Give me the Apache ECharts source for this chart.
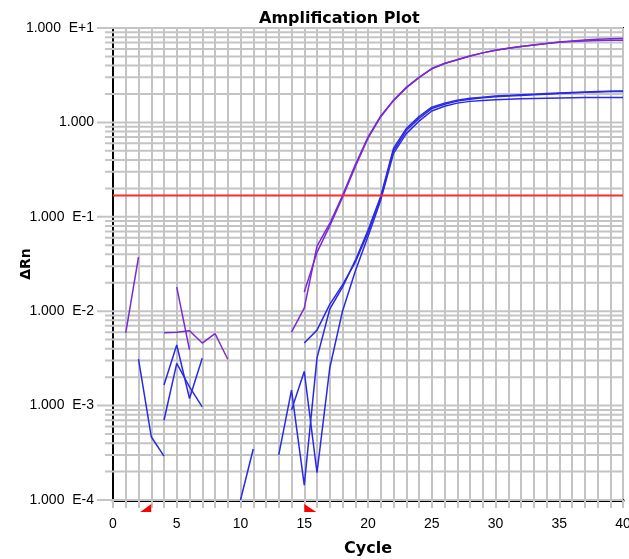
<!DOCTYPE html>
<html>
<head>
<meta charset="utf-8">
<script src="https://cdn.jsdelivr.net/npm/echarts@6/dist/echarts.min.js"></script>
<style>
  html, body { margin: 0; padding: 0; background: #ffffff; }
  #chart { width: 629px; height: 559px; }
</style>
</head>
<body>
<div id="chart"></div>
<script>
// Cycle numbers (x axis)
const cycles = [1, 2, 3, 4, 5, 6, 7, 8, 9, 10, 11, 12, 13, 14, 15, 16, 17, 18, 19, 20,
                21, 22, 23, 24, 25, 26, 27, 28, 29, 30, 31, 32, 33, 34, 35, 36, 37, 38, 39, 40];

// Delta Rn per cycle; null where the value is not positive (not drawn on a log axis)
const purpleA = [0.0059, 0.0375, null, 0.0059, 0.0060, 0.0062, 0.0046, 0.0058, 0.0031, null,
                 null, null, null, 0.0060, 0.0108, 0.049, 0.085, 0.168, 0.355, 0.70,
                 1.17, 1.72, 2.35, 3.0, 3.72, 4.2, 4.6, 5.05, 5.45, 5.82,
                 6.1, 6.35, 6.6, 6.85, 7.1, 7.3, 7.45, 7.6, 7.7, 7.75];
const purpleB = [null, null, null, null, 0.018, 0.0039, null, null, null, null,
                 null, null, null, null, 0.016, 0.042, 0.080, 0.160, 0.34, 0.68,
                 1.15, 1.70, 2.32, 2.98, 3.7, 4.2, 4.6, 5.05, 5.45, 5.8,
                 6.1, 6.35, 6.6, 6.85, 7.05, 7.2, 7.3, 7.35, 7.4, 7.4];
const blueA = [null, 0.00311, 0.000468, 0.000292, null, null, null, null, null, null,
               null, null, 0.00030, 0.00146, 0.000144, 0.0032, 0.0105, 0.0180, 0.0345, 0.072,
               0.165, 0.53, 0.86, 1.15, 1.45, 1.6, 1.72, 1.8, 1.85, 1.9,
               1.93, 1.96, 1.99, 2.02, 2.05, 2.08, 2.1, 2.12, 2.14, 2.15];
const blueB = [null, null, null, 0.00165, 0.00439, 0.00119, 0.00317, null, null, null,
               null, null, null, 0.0009, 0.0023, 0.000195, 0.0025, 0.0100, 0.0265, 0.062,
               0.150, 0.47, 0.76, 1.03, 1.32, 1.48, 1.6, 1.67, 1.71, 1.74,
               1.76, 1.78, 1.79, 1.8, 1.81, 1.82, 1.83, 1.83, 1.84, 1.84];
const blueC = [null, null, null, 0.0007, 0.0028, 0.00158, 0.00097, null, null, 0.0001,
               0.000347, null, null, null, 0.0046, 0.0063, 0.0118, 0.019, 0.033, 0.068,
               0.16, 0.50, 0.82, 1.1, 1.4, 1.56, 1.68, 1.76, 1.82, 1.87,
               1.9, 1.93, 1.96, 1.99, 2.02, 2.05, 2.08, 2.1, 2.12, 2.13];

// Threshold and baseline range
const threshold = 0.168;
const baselineStart = 3;
const baselineEnd = 15;

// Axis ranges and tick text
const xMin = 0, xMax = 40;
const yMin = 0.0001, yMax = 10;
const yTickLabels = ['1.000  E-4', '1.000  E-3', '1.000  E-2', '1.000  E-1', '1.000', '1.000  E+1'];
const yMinorSteps = [2, 3, 4, 5, 6, 7, 8, 9];
const yDecades = [0.0001, 0.001, 0.01, 0.1, 1];

const PURPLE = '#7a2ad2';
const BLUE = '#2a2ae6';
const GRID_GREY = '#c4c4c4';

function pairs(vals) {
  return cycles.map((c, i) => [c, vals[i]]);
}

// Log-spaced helper lines (2..9 within each decade) plus majors
const minorValues = [];
yDecades.forEach(d => yMinorSteps.forEach(s => minorValues.push([xMin, d * s, 0])));
const majorValues = [0.0001, 0.001, 0.01, 0.1, 1, 10].map(v => [xMin, v, 1]);

const chart = echarts.init(document.getElementById('chart'), null, { renderer: 'canvas' });

function curve(name, vals, color) {
  return {
    name: name,
    type: 'line',
    data: pairs(vals),
    showSymbol: false,
    connectNulls: false,
    lineStyle: { color: color, width: 1.5 },
    itemStyle: { color: color },
    z: 5,
    silent: true
  };
}

const option = {
  animation: false,
  backgroundColor: '#ffffff',
  title: {
    text: 'Amplification Plot',
    left: 254,
    top: 6,
    textStyle: { fontFamily: 'DejaVu Sans', fontWeight: 'bold', fontSize: 16, color: '#000' }
  },
  grid: {
    left: 113, right: 6, top: 28, bottom: 59,
    containLabel: false,
    outerBoundsMode: 'none',
    show: true, borderColor: '#111', borderWidth: 2, backgroundColor: '#ffffff'
  },
  xAxis: {
    type: 'value',
    min: xMin, max: xMax, interval: 5,
    name: 'Cycle',
    nameLocation: 'middle',
    nameGap: 41,
    nameMoveOverlap: false,
    nameTextStyle: { fontFamily: 'DejaVu Sans', fontWeight: 'bold', fontSize: 16, color: '#000' },
    axisLine: { show: true, onZero: false, lineStyle: { color: '#000', width: 3 } },
    axisTick: { show: true, length: 8, lineStyle: { color: GRID_GREY, width: 2 } },
    minorTick: { show: true, splitNumber: 5, length: 8, lineStyle: { color: GRID_GREY, width: 2 } },
    axisLabel: { margin: 17, fontFamily: 'Liberation Sans', fontSize: 14, color: '#000' },
    splitLine: { show: true, lineStyle: { color: GRID_GREY, width: 2 } },
    minorSplitLine: { show: true, lineStyle: { color: GRID_GREY, width: 2 } }
  },
  yAxis: {
    type: 'log',
    logBase: 10,
    min: yMin, max: yMax,
    splitNumber: 5,
    name: 'ΔRn',
    nameLocation: 'middle',
    nameGap: 80,
    nameMoveOverlap: false,
    nameTextStyle: { fontFamily: 'DejaVu Sans', fontWeight: 'bold', fontSize: 14, color: '#000' },
    axisLine: { show: true, lineStyle: { color: '#000', width: 2 } },
    axisTick: { show: false },
    axisLabel: {
      margin: 19,
      fontFamily: 'Liberation Sans', fontSize: 14, color: '#000',
      formatter: function (v) {
        const e = Math.round(Math.log10(v));
        return yTickLabels[e + 4] || '';
      }
    },
    splitLine: { show: false }
  },
  series: [
    {
      // horizontal grid lines with their ticks left of the axis
      name: 'yGrid',
      type: 'custom',
      data: minorValues.concat(majorValues),
      encode: { x: 0, y: 1 },
      clip: false,
      silent: true,
      z: 1,
      renderItem: function (params, api) {
        const v = api.value(1);
        const major = api.value(2) === 1;
        const p0 = api.coord([xMin, v]);
        const p1 = api.coord([xMax, v]);
        return {
          type: 'line',
          shape: { x1: p0[0] - (major ? 16 : 8), y1: p0[1], x2: p1[0], y2: p1[1] },
          style: { stroke: GRID_GREY, lineWidth: 2 }
        };
      }
    },
    curve('Sample 1', purpleA, PURPLE),
    curve('Sample 2', purpleB, PURPLE),
    curve('Sample 3', blueA, BLUE),
    curve('Sample 4', blueB, BLUE),
    curve('Sample 5', blueC, BLUE),
    {
      name: 'Threshold',
      type: 'line',
      data: [[xMin, threshold], [xMax, threshold]],
      showSymbol: false,
      lineStyle: { color: '#ff2a2a', width: 2 },
      z: 6,
      silent: true
    },
    {
      // baseline start / end markers under the cycle axis
      name: 'Baseline',
      type: 'custom',
      data: [[baselineStart, yMin, 0], [baselineEnd, yMin, 1]],
      encode: { x: 0, y: 1 },
      clip: false,
      silent: true,
      z: 7,
      renderItem: function (params, api) {
        const p = api.coord([api.value(0), api.value(1)]);
        const isEnd = api.value(2) === 1;
        const x = p[0], y = p[1];
        const pts = isEnd
          ? [[x, y + 4], [x, y + 12], [x + 12, y + 12]]
          : [[x, y + 4], [x, y + 12], [x - 11, y + 12]];
        return {
          type: 'polygon',
          shape: { points: pts },
          style: { fill: '#ff0000' }
        };
      }
    }
  ]
};

chart.setOption(option);
</script>
</body>
</html>
